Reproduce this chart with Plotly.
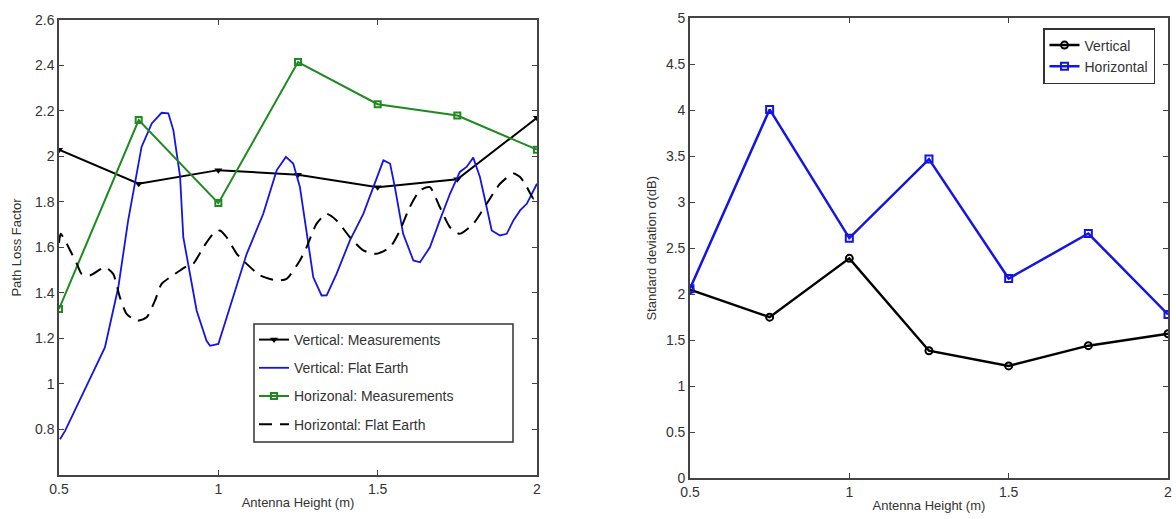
import plotly.graph_objects as go

# ---------------- data ----------------
heights = [0.5, 0.75, 1.0, 1.25, 1.5, 1.75, 2.0]

# Left panel: path loss factor
vert_meas = [2.03, 1.88, 1.94, 1.92, 1.865, 1.90, 2.17]
horiz_meas = [1.33, 2.16, 1.795, 2.415, 2.23, 2.18, 2.03]

vert_flat_x = [0.503, 0.519, 0.644, 0.686, 0.717, 0.759, 0.791, 0.822, 0.843, 0.859,
               0.874, 0.880, 0.890, 0.900, 0.932, 0.963, 0.974, 1.0, 1.037, 1.089,
               1.141, 1.183, 1.212, 1.235, 1.256, 1.277, 1.298, 1.324, 1.34, 1.371,
               1.413, 1.455, 1.486, 1.518, 1.539, 1.554, 1.580, 1.612, 1.633, 1.664,
               1.695, 1.727, 1.758, 1.779, 1.80, 1.821, 1.842, 1.858, 1.884, 1.905,
               1.926, 1.947, 1.968, 2.0]
vert_flat_y = [0.757, 0.794, 1.161, 1.425, 1.719, 2.042, 2.145, 2.192, 2.19, 2.115,
               1.969, 1.91, 1.645, 1.572, 1.322, 1.19, 1.168, 1.176, 1.337, 1.572,
               1.748, 1.939, 1.998, 1.969, 1.866, 1.66, 1.469, 1.389, 1.39, 1.484,
               1.631, 1.748, 1.866, 1.983, 1.969, 1.866, 1.66, 1.543, 1.535, 1.601,
               1.719, 1.836, 1.932, 1.954, 1.995, 1.91, 1.778, 1.675, 1.653, 1.66,
               1.719, 1.763, 1.792, 1.88]

horiz_flat_x = [0.5, 0.505, 0.519, 0.535, 0.556, 0.571, 0.597, 0.644, 0.67, 0.691,
                0.712, 0.744, 0.775, 0.801, 0.822, 0.864, 0.895, 0.921, 0.953, 0.984,
                1.005, 1.026, 1.058, 1.089, 1.131, 1.183, 1.214, 1.256, 1.277, 1.308,
                1.34, 1.371, 1.413, 1.455, 1.497, 1.539, 1.57, 1.601, 1.633, 1.664,
                1.695, 1.727, 1.758, 1.80, 1.842, 1.884, 1.926, 1.947, 1.968, 1.989, 2.0]
horiz_flat_y = [1.62, 1.66, 1.63, 1.587, 1.528, 1.484, 1.477, 1.513, 1.484, 1.381,
                1.308, 1.278, 1.293, 1.366, 1.44, 1.484, 1.513, 1.528, 1.601, 1.66,
                1.675, 1.645, 1.572, 1.528, 1.477, 1.455, 1.462, 1.543, 1.601, 1.704,
                1.748, 1.719, 1.645, 1.587, 1.572, 1.601, 1.675, 1.778, 1.851, 1.865,
                1.778, 1.689, 1.66, 1.704, 1.792, 1.88, 1.925, 1.91, 1.866, 1.815, 1.82]

# Right panel: standard deviation
std_vert = [2.05, 1.75, 2.39, 1.385, 1.22, 1.44, 1.57]
std_horiz = [2.06, 4.01, 2.61, 3.47, 2.17, 2.66, 1.78]

left_y_ticks = [0.8, 1.0, 1.2, 1.4, 1.6, 1.8, 2.0, 2.2, 2.4, 2.6]
left_y_labels = ["0.8", "1", "1.2", "1.4", "1.6", "1.8", "2", "2.2", "2.4", "2.6"]
right_y_ticks = [0, 0.5, 1, 1.5, 2, 2.5, 3, 3.5, 4, 4.5, 5]
right_y_labels = ["0", "0.5", "1", "1.5", "2", "2.5", "3", "3.5", "4", "4.5", "5"]
x_ticks = [0.5, 1.0, 1.5, 2.0]
x_labels = ["0.5", "1", "1.5", "2"]

FONT = "Liberation Sans, Arial, sans-serif"
BLUE = "#1414e6"
GREEN = "#1f8a1f"
W, H = 1176, 519

fig = go.Figure()

fig.add_trace(go.Scatter(x=heights, y=vert_meas, name="Vertical: Measurements",
                         mode="lines+markers", line=dict(color="black", width=2),
                         marker=dict(symbol="triangle-down", size=7, color="black"),
                         xaxis="x", yaxis="y", legend="legend", legendgroup="a"))
fig.add_trace(go.Scatter(x=vert_flat_x, y=vert_flat_y, name="Vertical: Flat Earth",
                         mode="lines", line=dict(color=BLUE, width=1.8),
                         xaxis="x", yaxis="y", legend="legend", legendgroup="b"))
fig.add_trace(go.Scatter(x=heights, y=horiz_meas, name="Horizonal: Measurements",
                         mode="lines+markers", line=dict(color=GREEN, width=2),
                         marker=dict(symbol="square-open", size=6, color=GREEN,
                                     line=dict(width=2)),
                         xaxis="x", yaxis="y", legend="legend", legendgroup="c"))
fig.add_trace(go.Scatter(x=horiz_flat_x, y=horiz_flat_y, name="Horizontal: Flat Earth",
                         mode="lines", line=dict(color="black", width=2, dash="13px,8px",
                                                 shape="spline", smoothing=0.6),
                         xaxis="x", yaxis="y", legend="legend", legendgroup="d"))

fig.add_trace(go.Scatter(x=heights, y=std_vert, name="Vertical",
                         mode="lines+markers", line=dict(color="black", width=2.5),
                         marker=dict(symbol="circle-open", size=7, color="black",
                                     line=dict(width=2)),
                         xaxis="x2", yaxis="y2", legend="legend2"))
fig.add_trace(go.Scatter(x=heights, y=std_horiz, name="Horizontal",
                         mode="lines+markers", line=dict(color=BLUE, width=2.5),
                         marker=dict(symbol="square-open", size=7, color=BLUE,
                                     line=dict(width=2)),
                         xaxis="x2", yaxis="y2", legend="legend2"))

axis_common = dict(showline=True, linecolor="#444", linewidth=1.5, mirror="ticks",
                   ticks="inside", ticklen=5, tickcolor="#444", showgrid=False,
                   zeroline=False, automargin=False,
                   tickfont=dict(family=FONT, size=14, color="#333"))

fig.update_layout(
    width=W, height=H,
    margin=dict(l=0, r=0, t=0, b=0),
    paper_bgcolor="white", plot_bgcolor="white",
    font=dict(family=FONT, color="#333"),
    xaxis=dict(domain=[0.0502, 0.4566], range=[0.5, 2.0], tickvals=x_ticks,
               ticktext=x_labels, anchor="y",
               title=dict(text="Antenna Height (m)", font=dict(size=13), standoff=2),
               **axis_common),
    yaxis=dict(domain=[0.0848, 0.9615], range=[0.6, 2.6], tickvals=left_y_ticks,
               ticktext=left_y_labels, anchor="x",
               title=dict(text="Path Loss Factor", font=dict(size=13), standoff=10),
               **axis_common),
    xaxis2=dict(domain=[0.5867, 0.9932], range=[0.5, 2.0], tickvals=x_ticks,
                ticktext=x_labels, anchor="y2",
                title=dict(text="Antenna Height (m)", font=dict(size=13), standoff=2),
                **axis_common),
    yaxis2=dict(domain=[0.079, 0.9644], range=[0, 5], tickvals=right_y_ticks,
                ticktext=right_y_labels, anchor="x2",
                title=dict(text="Standard deviation σ(dB)", font=dict(size=13), standoff=6),
                **axis_common),
    legend=dict(x=254/W, y=1-324/H, xanchor="left", yanchor="top",
                bgcolor="rgba(0,0,0,0)", borderwidth=0,
                font=dict(family=FONT, size=14, color="#333"),
                traceorder="grouped", tracegroupgap=7),
    legend2=dict(x=1043/W, y=1-28/H, xanchor="left", yanchor="top",
                 bgcolor="white", bordercolor="#333", borderwidth=1.5,
                 font=dict(family=FONT, size=14, color="#333"),
                 tracegroupgap=0),
    showlegend=True,
    shapes=[dict(type="rect", xref="paper", yref="paper",
                 x0=254/W, x1=513/W, y0=1-442/H, y1=1-324/H,
                 fillcolor="white", line=dict(color="#333", width=1.5),
                 layer="above")],
)

fig.write_html("out.html")
